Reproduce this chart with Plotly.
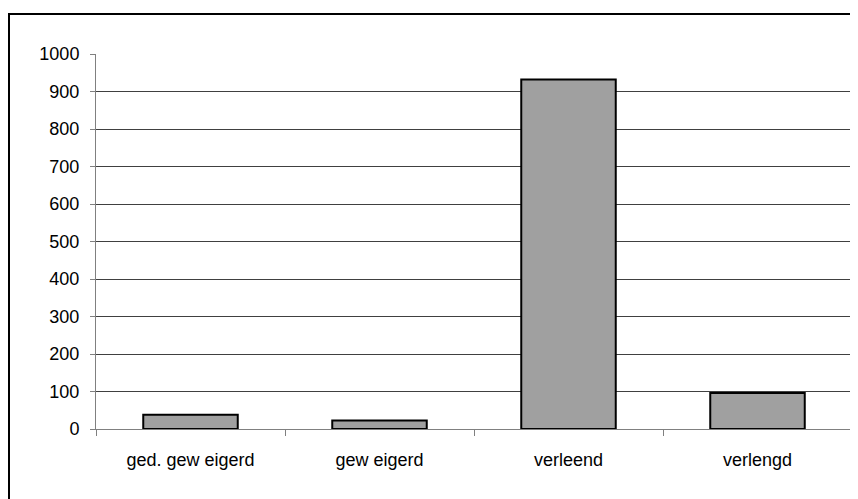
import plotly.graph_objects as go

categories = ["ged. gew eigerd", "gew eigerd", "verleend", "verlengd"]
values = [38, 23, 932, 96]
y_ticks = [0, 100, 200, 300, 400, 500, 600, 700, 800, 900, 1000]

# page body has an 8px margin, so the figure is 8px smaller and offset
W, H = 850, 491
L, R, T, B = 88, 6, 46, 70
pw, ph = W - L - R, H - T - B

fig = go.Figure(go.Bar(
    x=categories, y=values,
    marker=dict(color="#a0a0a0", line=dict(color="#000000", width=2)),
    width=0.5,
))

fig.update_layout(
    width=W, height=H,
    margin=dict(l=L, r=R, t=T, b=B, pad=0),
    paper_bgcolor="white", plot_bgcolor="white",
    font=dict(family="Liberation Sans, Arial, sans-serif", size=18, color="#000000"),
    showlegend=False,
    xaxis=dict(
        type="category", showline=True, linecolor="#808080", linewidth=1,
        ticks="outside", tickson="boundaries", ticklen=6, tickcolor="#808080",
        showgrid=False, zeroline=False, range=[-0.5, 3.5],
        tickfont=dict(size=18), ticklabelstandoff=14,
    ),
    yaxis=dict(
        range=[0, 1000], tickvals=y_ticks, showline=True, linecolor="#808080", linewidth=1,
        ticks="outside", ticklen=5, tickcolor="#808080",
        showgrid=True, gridcolor="#404040", gridwidth=1, zeroline=False,
        tickfont=dict(size=18), ticklabelstandoff=7,
    ),
    shapes=[dict(
        type="rect", xref="paper", yref="paper",
        x0=(1 - L) / pw, x1=1.2, y0=-0.5, y1=(H - B - 6) / ph,
        line=dict(color="#000000", width=2), fillcolor="rgba(0,0,0,0)", layer="above",
    )],
)

fig.write_html("out.html")
